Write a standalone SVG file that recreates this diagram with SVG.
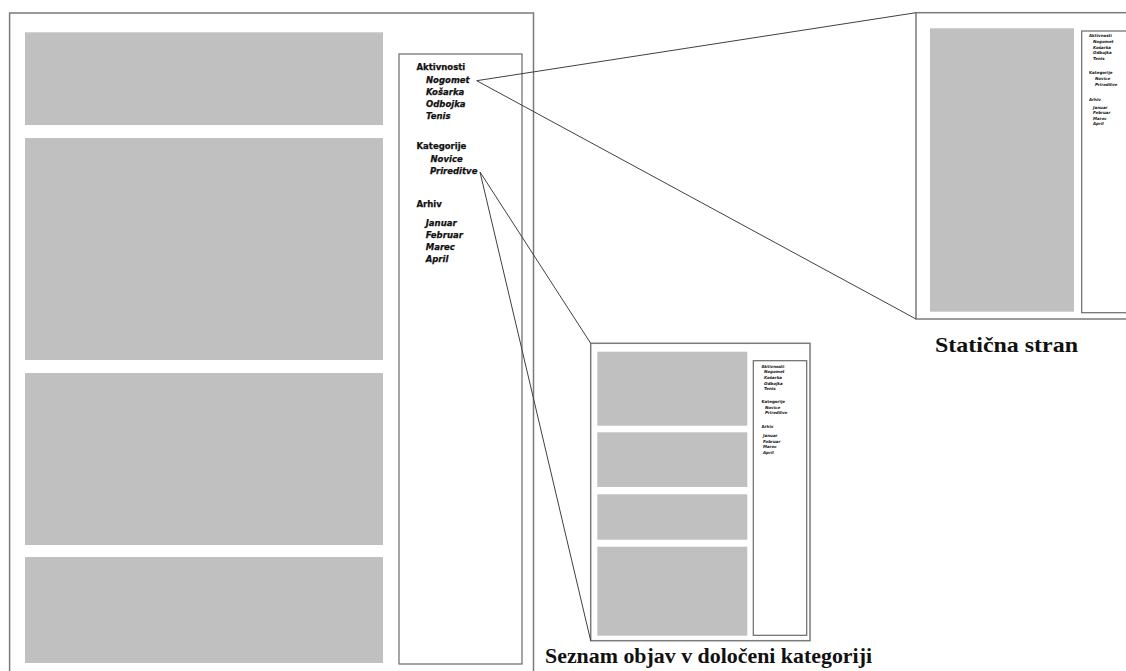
<svg xmlns="http://www.w3.org/2000/svg" width="1126" height="671" viewBox="0 0 1126 671">
<style>
.page{fill:#fff;stroke:#7a7a7a;stroke-width:1.5}
.side{fill:#fff;stroke:#6a6a6a;stroke-width:1.2}
.blk{fill:#c0c0c0}
.conn{stroke:#404040;stroke-width:1;fill:none}
.h{font-family:"DejaVu Sans",sans-serif;font-weight:bold;font-size:8.5px;fill:#111;stroke:#111;stroke-width:0.25}
.i{font-family:"DejaVu Sans",sans-serif;font-weight:bold;font-style:italic;font-size:8.5px;fill:#111;stroke:#111;stroke-width:0.25}
.th{font-family:"DejaVu Sans",sans-serif;font-weight:bold;font-size:4px;fill:#111}
.ti{font-family:"DejaVu Sans",sans-serif;font-weight:bold;font-style:italic;font-size:4px;fill:#111}
.lbl{font-family:"Liberation Serif",serif;font-weight:bold;font-size:21px;fill:#111}
</style>
<rect width="1126" height="671" fill="#fff"/>
<g id="main-page">
<rect class="page" x="9.6" y="13" width="523.9" height="670"/>
<rect class="blk" x="25" y="32.3" width="358" height="92.7"/>
<rect class="blk" x="25" y="138" width="358" height="222"/>
<rect class="blk" x="25" y="373" width="358" height="172"/>
<rect class="blk" x="25" y="557" width="358" height="106"/>
<rect class="side" x="399" y="54" width="123" height="610"/>
<text class="h" x="416.5" y="69.5">Aktivnosti</text>
<text class="i" x="426" y="83.3">Nogomet</text>
<text class="i" x="426" y="95">Košarka</text>
<text class="i" x="426" y="106.8">Odbojka</text>
<text class="i" x="426" y="118.8">Tenis</text>
<text class="h" x="416.5" y="149.3">Kategorije</text>
<text class="i" x="430.5" y="162">Novice</text>
<text class="i" x="430" y="174">Prireditve</text>
<text class="h" x="416.5" y="206.7">Arhiv</text>
<text class="i" x="425.7" y="226">Januar</text>
<text class="i" x="425.7" y="238">Februar</text>
<text class="i" x="425.7" y="250">Marec</text>
<text class="i" x="425.7" y="261.5">April</text>
</g>
<g id="static-page">
<rect class="page" x="916" y="12.7" width="220" height="306.3"/>
<rect class="blk" x="930" y="28.3" width="144" height="283.4"/>
<rect class="side" x="1081.7" y="31" width="60" height="281.7"/>
<text class="th" x="1089" y="37">Aktivnosti</text>
<text class="ti" x="1093" y="43">Nogomet</text>
<text class="ti" x="1093" y="48.5">Košarka</text>
<text class="ti" x="1093" y="54">Odbojka</text>
<text class="ti" x="1093" y="59.5">Tenis</text>
<text class="th" x="1089" y="74">Kategorije</text>
<text class="ti" x="1095" y="80">Novice</text>
<text class="ti" x="1095" y="85.5">Prireditve</text>
<text class="th" x="1089" y="100.5">Arhiv</text>
<text class="ti" x="1093" y="108.5">Januar</text>
<text class="ti" x="1093" y="114">Februar</text>
<text class="ti" x="1093" y="119.5">Marec</text>
<text class="ti" x="1093" y="125">April</text>
</g>
<g id="category-page">
<rect class="page" x="590.7" y="343.3" width="219.3" height="297.4"/>
<rect class="blk" x="597.3" y="351.7" width="150" height="74"/>
<rect class="blk" x="597.3" y="432.3" width="150" height="54.7"/>
<rect class="blk" x="597.3" y="494.3" width="150" height="45.4"/>
<rect class="blk" x="597.3" y="546.7" width="150" height="89"/>
<rect class="side" x="753.3" y="360.7" width="53.4" height="274.6"/>
<text class="th" x="761.5" y="367.5">Aktivnosti</text>
<text class="ti" x="764" y="373">Nogomet</text>
<text class="ti" x="764" y="378.5">Košarka</text>
<text class="ti" x="764" y="384.5">Odbojka</text>
<text class="ti" x="764" y="390">Tenis</text>
<text class="th" x="761.5" y="402.5">Kategorije</text>
<text class="ti" x="765" y="408.5">Novice</text>
<text class="ti" x="765" y="414">Prireditve</text>
<text class="th" x="761.5" y="428">Arhiv</text>
<text class="ti" x="763" y="437">Januar</text>
<text class="ti" x="763" y="443">Februar</text>
<text class="ti" x="763" y="448">Marec</text>
<text class="ti" x="763" y="454">April</text>
</g>
<g id="connectors">
<line class="conn" x1="476.7" y1="80.7" x2="916" y2="12.7"/>
<line class="conn" x1="476.7" y1="80.7" x2="916" y2="319"/>
<line class="conn" x1="480" y1="172" x2="590.7" y2="343.3"/>
<line class="conn" x1="480" y1="172" x2="590.7" y2="640.7"/>
</g>
<g id="labels">
<text class="lbl" x="935" y="351.7" textLength="143" lengthAdjust="spacingAndGlyphs">Statična stran</text>
<text class="lbl" x="545" y="663.3" textLength="327" lengthAdjust="spacingAndGlyphs">Seznam objav v določeni kategoriji</text>
</g>
</svg>
